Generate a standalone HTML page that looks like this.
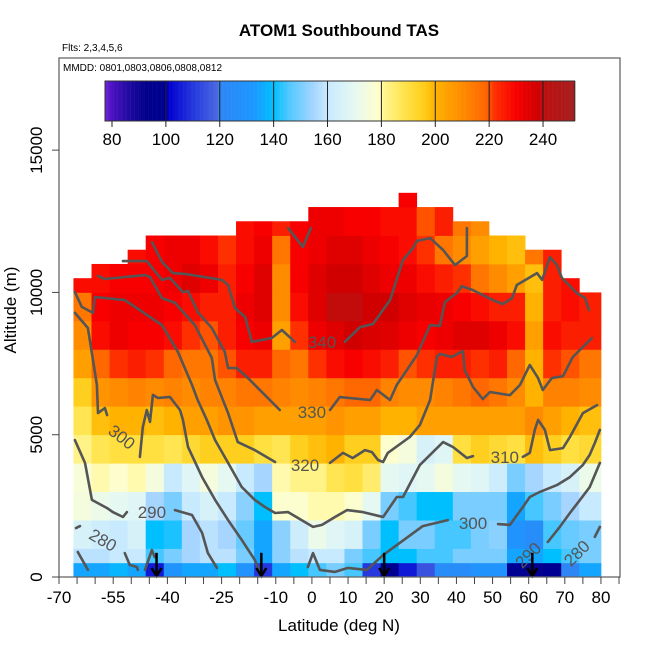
<!DOCTYPE html>
<html><head><meta charset="utf-8">
<style>
html,body{margin:0;padding:0;background:#fff;}
svg{display:block;font-family:"Liberation Sans",Arial,sans-serif;}
</style></head>
<body>
<svg id="chart" width="650" height="650" viewBox="0 0 650 650" xmlns="http://www.w3.org/2000/svg">
  <text x="339" y="36" font-size="17" font-weight="bold" text-anchor="middle">ATOM1 Southbound TAS</text>
  <text x="62" y="51" font-size="10">Flts: 2,3,4,5,6</text>
  <g id="cells"></g>
  <g id="contours"></g>
  <g id="arrows"></g>
  <rect x="59" y="58" width="561" height="519" fill="none" stroke="#666" stroke-width="1.3"/>
  <text x="63" y="71" font-size="10">MMDD: 0801,0803,0806,0808,0812</text>
  <g id="cbar"></g>
  <g id="axes"></g>
  <text x="339" y="631" font-size="17" text-anchor="middle">Latitude (deg N)</text>
  <text transform="translate(16,310) rotate(-90)" font-size="17" text-anchor="middle">Altitude (m)</text>
</svg>
<script>
// ---- data ----
const colStartLat = -66, colWidth = 5;
const colTopAlt = [10500,11000,11000,11500,12000,12000,12000,12000,12000,12500,12500,12500,12500,13000,13000,13000,13000,13000,13500,13000,13000,12500,12500,12000,12000,11500,11500,10500,10000];
const altBinEdges = [0,500,1000,2000,3000,4000,5000,6000,7000,8000,9000,10000,11000,12000,13000,14000];
const tas_b0 = [135,135,138,135,105,130,135,135,140,130,110,135,140,145,150,145,110,100,105,115,125,125,130,130,100,92,100,120,135];
const tas_b1 = [158,158,160,160,145,150,155,158,158,150,135,152,158,160,160,150,145,140,140,145,145,150,150,150,135,135,140,145,150];
const tas_r1 = [165,162,160,165,140,142,155,158,155,148,135,152,162,172,168,165,150,140,150,150,145,145,150,152,130,125,145,148,150];
const tas_r2 = [175,172,170,168,155,150,160,165,160,152,140,178,178,180,180,178,170,150,145,140,140,150,150,150,135,145,150,155,160];
const tas_r3 = [176,180,178,180,175,160,168,175,170,160,155,180,182,182,188,190,185,170,168,170,175,170,168,162,150,155,160,165,172];
const tas_r4 = [182,188,190,190,190,188,192,195,195,195,190,188,195,198,200,195,195,178,175,165,168,190,195,192,190,198,195,190,192];
const tas_r5 = [188,198,200,200,198,200,205,205,208,208,205,205,205,205,208,205,205,200,200,205,205,205,205,205,205,210,205,200,198];
const tas_r6 = [195,208,210,212,210,212,210,212,212,215,215,212,210,212,215,218,218,212,210,210,212,215,218,215,210,200,212,212,210];
const tas_r7 = [205,218,222,225,222,218,215,215,220,225,225,218,215,222,228,230,228,225,220,222,225,225,222,225,218,200,222,220,215];
const tas_r8 = [210,228,232,230,230,228,222,220,225,230,232,205,222,232,235,238,236,235,232,230,232,235,235,232,228,205,228,225,225];
const tas_r9 = [215,230,232,232,232,230,228,225,225,232,235,210,228,235,240,240,238,238,235,233,232,230,228,225,225,200,225,228,225];
const tas_r10 = [228,228,230,230,230,232,235,232,225,230,235,210,230,235,238,238,235,232,232,228,225,222,215,210,205,198,225,228,null];
const tas_r11 = [null,null,null,228,230,232,232,228,222,228,232,215,230,232,235,235,232,230,228,222,215,210,205,200,198,215,225,null,null];
const tas_r12 = [null,null,null,null,null,null,null,null,null,228,230,225,230,232,232,230,230,228,228,220,225,215,210,null,null,null,null,null,null];
const tas_r13 = [null,null,null,null,null,null,null,null,null,null,null,null,null,null,null,null,null,null,230,null,null,null,null,null,null,null,null,null,null];
const tasRows = [tas_b0,tas_b1,tas_r1,tas_r2,tas_r3,tas_r4,tas_r5,tas_r6,tas_r7,tas_r8,tas_r9,tas_r10,tas_r11,tas_r12,tas_r13];

// contours: [lat, km]
const c340a = [[-44.3,11.77],[-41.5,11.07],[-38.5,10.68],[-35.2,10.65],[-24.9,10.44],[-23.2,10.26],[-21.3,9.45],[-18.5,9.14],[-16.6,8.26],[-11.1,8.40],[-8.3,8.68],[-4.7,8.26]];
const c340b = [[9.1,8.26],[13.3,8.78],[16.9,8.89],[21.6,9.73],[25.2,11.14],[28.0,11.56],[29.1,11.81],[32.7,11.91],[36.3,11.49],[39.6,10.96],[42.9,11.28],[42.9,12.26]];
const c340c = [[-6.6,12.26],[-2.5,11.6],[-0.3,12.26]];
const c330a = [[-52.3,11.10],[-45.7,11.10],[-41.5,10.44],[-39.3,10.51],[-35.7,10.01],[-34.3,10.05],[-31.6,9.31],[-27.7,8.75],[-24.1,7.91],[-23.2,7.34],[-20.8,7.34],[-17.7,6.99],[-8.9,5.87]];
const c330b = [[5.0,5.87],[7.7,6.32],[16.1,6.22],[18.0,6.57],[21.6,6.22],[23.5,6.75],[29.1,7.80],[32.7,8.85],[35.4,8.82],[36.8,9.66],[40.1,9.98],[41.5,10.22],[44.6,10.08],[50.1,9.73],[52.9,9.59],[55.4,9.80],[56.7,10.26],[62.3,10.68],[63.7,10.44],[65.9,11.24],[67.8,10.96],[69.2,10.51],[73.3,9.98],[75.6,9.80],[76.7,9.38]];
const c320a = [[-59.2,10.58],[-57.3,10.47],[-46.2,10.61],[-44.8,10.54],[-41.5,9.80],[-37.9,9.63],[-32.4,8.85],[-27.7,7.70],[-26.8,6.92],[-23.2,5.76],[-20.5,4.74],[-15.8,4.46],[-10.2,4.04]];
const c320b = [[5.0,4.01],[8.6,4.36],[11.3,4.18],[14.7,4.46],[16.6,4.39],[18.3,4.11],[19.7,4.04],[21.0,4.36],[27.1,4.92],[29.9,5.34],[32.7,6.22],[34.6,7.73],[35.4,7.84],[38.7,7.73],[41.8,7.94],[42.3,7.27],[44.6,6.68],[47.3,6.25],[49.3,6.50],[54.8,6.39],[57.6,6.75],[60.3,7.45],[62.6,6.99],[63.9,6.57],[66.4,6.99],[69.5,7.06],[72.2,7.73],[77.5,8.40]];
const c310a = [[-65.6,10.01],[-63.7,9.49],[-60.6,9.28],[-60.1,9.84],[-51.8,9.73],[-41.5,8.85],[-37.1,7.91],[-33.2,6.75],[-31.6,6.22],[-29.1,5.52],[-26.8,4.81],[-23.2,4.01],[-19.4,3.16],[-15.8,2.71],[-13.0,2.46],[-10.2,2.25],[-6.6,2.28],[0.3,1.76],[2.8,1.83],[6.4,2.11],[9.7,2.35],[14.1,2.28],[19.7,2.11],[23.5,2.81],[25.2,2.81],[29.9,3.94],[36.3,4.74],[39.0,4.57],[42.9,4.18],[44.6,4.25]];
const c310b = [[58.4,4.22],[60.3,4.36],[61.7,5.17],[62.6,5.52],[64.5,5.17],[65.9,4.46],[69.5,4.53],[71.4,4.92],[75.0,5.76],[78.9,6.04]];
const c300a = [[-65.6,9.28],[-62.0,8.75],[-59.5,6.75],[-59.2,5.76],[-57.3,5.94],[-56.7,5.69]];
const c300b = [[-47.6,4.22],[-46.8,5.27],[-45.7,5.87],[-44.8,5.45],[-44.0,6.40],[-42.6,6.29],[-39.3,6.33],[-36.5,5.87],[-35.7,5.52],[-34.3,4.57],[-30.4,3.51],[-26.8,2.71],[-23.2,2.00],[-19.4,1.30],[-15.8,0.60],[-14.4,0.14]];
const c300c = [[-1.1,0.35],[0.3,0.84],[2.2,0.25],[6.4,0.18],[10.0,0.32],[15.2,0.25],[19.7,0.77],[30.7,1.79],[37.6,2.00]];
const c300d = [[51.5,1.86],[54.8,1.83],[58.4,2.46],[60.3,2.81],[63.1,2.99],[67.8,3.23],[71.4,3.51],[75.0,3.94],[76.9,4.29],[78.3,4.71],[79.7,5.17]];
const c290a = [[-65.6,4.81],[-62.8,4.01],[-60.9,2.71],[-56.7,2.42],[-55.1,2.28],[-52.3,2.11],[-51.2,2.28]];
const c290b = [[-37.9,2.35],[-33.2,2.18],[-30.4,1.55],[-28.8,0.84],[-26.3,0.32]];
const c290c = [[65.3,1.23],[68.6,1.76],[71.4,2.25],[74.2,2.71],[76.9,3.16],[79.7,4.01]];
const c280a = [[-65.3,1.72],[-64.2,1.79]];
const c280b = [[-64.8,0.88],[-62.0,0.25]];
const c280c = [[-51.8,0.84],[-50.4,0.42],[-48.4,0.35],[-48.2,0.25]];
const c280d = [[-46.2,0.25],[-44.3,0.95],[-43.5,0.70]];
const c280e = [[78.3,1.41],[79.7,1.76]];
const contourLines = [c340a,c340b,c340c,c330a,c330b,c320a,c320b,c310a,c310b,c300a,c300b,c300c,c300d,c290a,c290b,c290c,c280a,c280b,c280c,c280d,c280e];
const labelText = ["340","330","320","310","300","300","290","290","280","280"];
const labelLat = [2.8,0.0,-1.9,53.4,-52.6,44.6,-44.3,59.8,-57.8,73.3];
const labelKm = [8.26,5.80,3.94,4.22,4.92,1.90,2.28,0.77,1.30,0.84];
const labelRot = [0,0,0,0,38,0,0,-45,30,-45];
const arrowLat = [-43,-14,20,61];
const xTicks = [-70,-55,-40,-25,-10,0,10,20,30,40,50,60,70,80];
const yTicks = [0,5000,10000,15000];
const cbTicks = [80,100,120,140,160,180,200,220,240];

// ---- scales ----
const X = lat => 59 + (lat + 70) * 3.613;
const Y = alt => 577 - alt * 0.028458;
const SVGNS = "http://www.w3.org/2000/svg";
function mk(tag, attrs, parent){ const e=document.createElementNS(SVGNS,tag); for(const k in attrs) e.setAttribute(k,attrs[k]); parent.appendChild(e); return e; }

const stops = [[75,"#8a2be2"],[78,"#6a1dd6"],[80,"#4a12c0"],[88,"#160899"],[93,"#00008b"],[100,"#000092"],[101,"#0000cd"],[110,"#2438de"],[119,"#4a68e0"],[120,"#2e86f4"],[132,"#1e96ff"],[140,"#00bfff"],[146,"#55c8ff"],[155,"#a6d6ff"],[160,"#c8eaff"],[170,"#e6f8f2"],[179,"#ffffcc"],[181,"#fff590"],[190,"#ffe040"],[196,"#ffcc18"],[200,"#ffb200"],[210,"#ff8c00"],[219,"#ff6400"],[222,"#ff3000"],[230,"#f80000"],[238,"#d00000"],[241,"#bb1010"],[252,"#a52020"]];
function hex2(c){return [parseInt(c.substr(1,2),16),parseInt(c.substr(3,2),16),parseInt(c.substr(5,2),16)];}
function color(v){
  if(v<=stops[0][0]) return stops[0][1];
  for(let i=1;i<stops.length;i++){
    if(v<=stops[i][0]){
      const a=hex2(stops[i-1][1]), b=hex2(stops[i][1]);
      const t=(v-stops[i-1][0])/(stops[i][0]-stops[i-1][0]);
      return "rgb("+a.map((x,j)=>Math.round(x+(b[j]-x)*t)).join(",")+")";
    }
  }
  return stops[stops.length-1][1];
}

// ---- heatmap ----
const gCells = document.getElementById("cells");
tasRows.forEach((row, r) => {
  row.forEach((v, i) => {
    if (v === null) return;
    const lat0 = colStartLat + i * colWidth;
    const lat1 = (i === row.length - 1) ? 80 : lat0 + colWidth;
    const a0 = altBinEdges[r];
    const a1 = Math.min(altBinEdges[r + 1], colTopAlt[i]);
    if (a0 >= a1) return;
    const rc = mk("rect", {x:X(lat0).toFixed(2), y:Y(a1).toFixed(2), width:(X(lat1)-X(lat0)+0.4).toFixed(2), height:(Y(a0)-Y(a1)+0.4).toFixed(2), fill:color(v)}, gCells);
    
    
  });
});

// ---- contours ----
const gC = document.getElementById("contours");
contourLines.forEach(line => {
  const p = mk("polyline", {points: line.map(q => X(q[0]).toFixed(1)+","+Y(q[1]*1000).toFixed(1)).join(" "), fill:"none", stroke:"#555", "stroke-width":"2.6", "stroke-linejoin":"round", "stroke-linecap":"round"}, gC);
  
  
});
labelText.forEach((t, i) => {
  const x = X(labelLat[i]), y = Y(labelKm[i]*1000);
  const tx = mk("text", {x:x.toFixed(1), y:(y+6).toFixed(1), "font-size":"17", fill:"#555", "text-anchor":"middle", transform:"rotate("+labelRot[i]+" "+x.toFixed(1)+" "+y.toFixed(1)+")"}, gC);
  tx.textContent = t;
  
  
});

// ---- arrows ----
const gA = document.getElementById("arrows");
arrowLat.forEach(l => {
  const x = X(l);
  const ln = mk("line", {x1:x, y1:Y(850), x2:x, y2:574, stroke:"#000", "stroke-width":"2.5"}, gA);
  
  
  const hd = mk("polyline", {points:(x-5)+",568 "+x+",576 "+(x+5)+",568", fill:"none", stroke:"#000", "stroke-width":"2.5"}, gA);
  
  
});

// ---- colorbar ----
const gB = document.getElementById("cbar");
const CB = v => 112 + (v - 80) * 2.694;
for (let v = 77.4; v < 251.7; v += 0.5) {
  const r = mk("rect", {x:CB(v).toFixed(2), y:81, width:"1.6", height:40, fill:color(v+0.25)}, gB);
  
  
}
const cbf = mk("rect", {x:CB(77.4), y:81, width:CB(251.7)-CB(77.4), height:40, fill:"none", stroke:"#333", "stroke-width":"1"}, gB);


cbTicks.forEach(v => {
  const x = CB(v);
  if (v > 80) {
    const d = mk("line", {x1:x, y1:81, x2:x, y2:121, stroke:"#222", "stroke-width":"1"}, gB);
    
    
  }
  const tk = mk("line", {x1:x, y1:121, x2:x, y2:127, stroke:"#222", "stroke-width":"1"}, gB);
  
  
  const t = mk("text", {x:x, y:145, "font-size":"17", "text-anchor":"middle"}, gB);
  t.textContent = v;
  
  
});

// ---- axes ----
const gX = document.getElementById("axes");
for (let l = -70; l <= 85; l += 5) {
  const tk = mk("line", {x1:X(l), y1:577, x2:X(l), y2:584, stroke:"#444", "stroke-width":"1"}, gX);
  
  
}
xTicks.forEach(l => {
  const t = mk("text", {x:X(l), y:603, "font-size":"17", "text-anchor":"middle"}, gX);
  t.textContent = l;
  
  
});
yTicks.forEach(a => {
  const y = Y(a);
  const tk = mk("line", {x1:52, y1:y, x2:59, y2:y, stroke:"#444", "stroke-width":"1"}, gX);
  
  
  const t = mk("text", {x:0, y:0, "font-size":"17", "text-anchor":"middle", transform:"translate(42,"+y+") rotate(-90)"}, gX);
  t.textContent = a;
  
  
});
</script>
</body></html>
